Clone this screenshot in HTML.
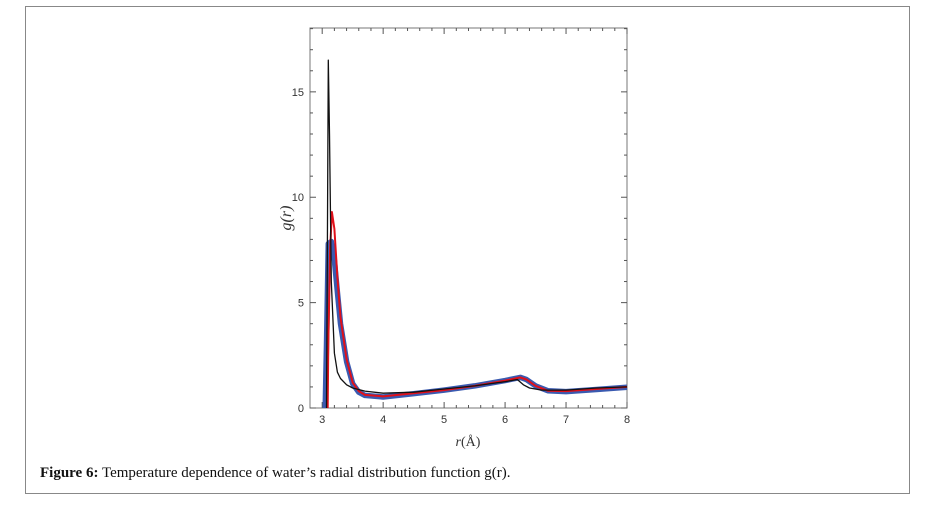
<!DOCTYPE html>
<html><head><meta charset="utf-8"><style>
body{margin:0;background:#fff;width:925px;height:507px;overflow:hidden;font-family:"Liberation Sans",sans-serif}
#frame{position:absolute;left:25px;top:6px;width:885px;height:488px;border:1px solid #888;box-sizing:border-box}
#cap{position:absolute;left:40px;top:465px;font-family:"Liberation Serif",serif;font-size:15px;color:#111}
svg{position:absolute;left:0;top:0}
</style></head><body>
<div id="frame"></div>
<svg id="chart" width="925" height="507"></svg>
<div id="cap"><b>Figure 6:</b> Temperature dependence of water’s radial distribution function g(r).</div>
<script>
const xTicks=[3,4,5,6,7,8];
const yTicks=[0,5,10,15];
const blackR=[3.07,3.08,3.1,3.12,3.15,3.2,3.25,3.3,3.4,3.5,3.7,4,4.5,5,5.5,6,6.2,6.3,6.4,6.6,7,7.5,8];
const blackG=[0,5,16.5,13,6,2.6,1.7,1.4,1.1,0.95,0.8,0.7,0.75,0.9,1.05,1.25,1.35,1.1,0.95,0.85,0.85,0.95,1.0];
const redR=[3.09,3.1,3.13,3.16,3.2,3.25,3.3,3.4,3.5,3.6,3.7,4,4.5,5,5.5,6,6.25,6.35,6.5,6.7,7,7.5,8];
const redG=[0,3,7.5,9.3,8.5,6.2,4.3,2.3,1.2,0.8,0.62,0.55,0.7,0.85,1.05,1.3,1.45,1.35,1.05,0.82,0.8,0.9,1.0];
const blueR=[3.05,3.07,3.1,3.15,3.2,3.25,3.3,3.4,3.5,3.6,3.7,4,4.5,5,5.5,6,6.25,6.35,6.5,6.7,7,7.5,8];
const blueG=[0,3,7.8,7.9,7,5.5,4,2.2,1.15,0.75,0.6,0.52,0.68,0.85,1.05,1.3,1.45,1.35,1.05,0.82,0.78,0.88,0.98];
const L=310,R=627,T=28,B=408,x0=2.8,x1=8,y0=0,y1=18.03;
const sx=v=>L+(v-x0)/(x1-x0)*(R-L), sy=v=>B-(v-y0)/(y1-y0)*(B-T);
const svg=document.getElementById('chart');const NS='http://www.w3.org/2000/svg';
function mk(t,a){const e=document.createElementNS(NS,t);for(const k in a)e.setAttribute(k,a[k]);svg.appendChild(e);return e;}
let fr=mk('rect',{x:L,y:T,width:R-L,height:B-T,fill:'none',stroke:'#777','stroke-width':1});


for(let v=3;v<=8.001;v+=0.2){const X=sx(v),maj=Math.abs(v-Math.round(v))<1e-6;
 mk('line',{x1:X,x2:X,y1:B,y2:B-(maj?6:3),stroke:'#555'});mk('line',{x1:X,x2:X,y1:T,y2:T+(maj?6:3),stroke:'#555'});}
for(let v=0;v<=18.001;v+=1){const Y=sy(v),maj=v%5===0;
 mk('line',{x1:L,x2:L+(maj?6:3),y1:Y,y2:Y,stroke:'#555'});mk('line',{x1:R,x2:R-(maj?6:3),y1:Y,y2:Y,stroke:'#555'});}
xTicks.forEach(v=>{const t=mk('text',{x:sx(v),y:B+15,'text-anchor':'middle','font-size':11,fill:'#333'});t.textContent=v;
 
 });
yTicks.forEach(v=>{const t=mk('text',{x:L-6,y:sy(v)+4,'text-anchor':'end','font-size':11,fill:'#333'});t.textContent=v;
 
 });
let xt=mk('text',{x:468,y:446,'text-anchor':'middle','font-size':14,'font-family':'Liberation Serif,serif',fill:'#333'});
xt.innerHTML='<tspan font-style="italic">r</tspan>(Å)';


let yt=mk('text',{x:291,y:218,'text-anchor':'middle','font-size':16,'font-family':'Liberation Serif,serif','font-style':'italic',fill:'#333',transform:'rotate(-90 291 218)'});
yt.innerHTML='g(r)';


function line(rs,gs,col,w,name){const d=rs.map((r,i)=>(i?'L':'M')+sx(r).toFixed(1)+','+sy(gs[i]).toFixed(1)).join('');
 const p=mk('path',{d:d,fill:'none',stroke:col,'stroke-width':w,'stroke-linejoin':'round'});
 
 }
line(blueR,blueG,'#3a5ab0',5.5,'series-blue');
line(redR,redG,'#e0101a',2,'series-red');
line(blackR,blackG,'#111',1.3,'series-black');
</script>
</body></html>
